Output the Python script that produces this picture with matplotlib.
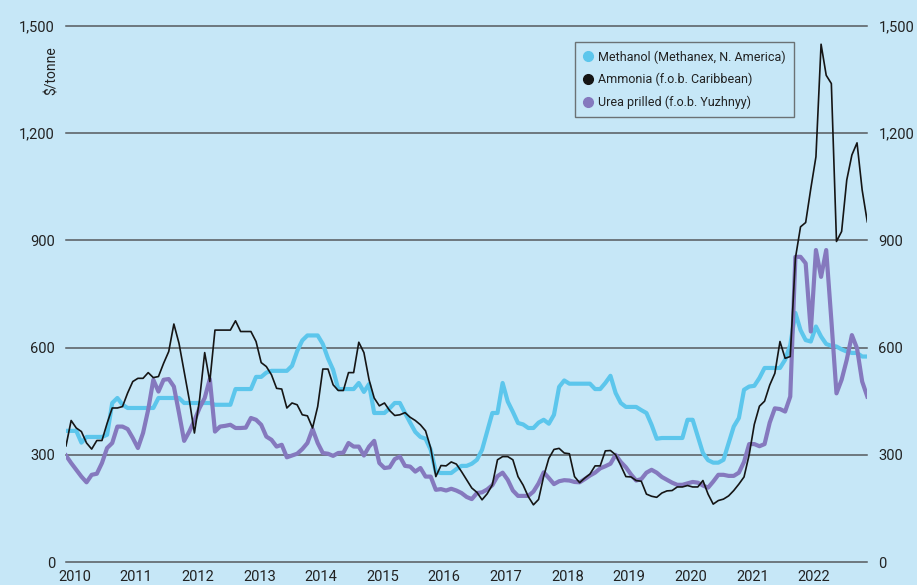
import matplotlib
matplotlib.use("Agg")
import matplotlib.pyplot as plt
from matplotlib.lines import Line2D
import numpy as np

# Monthly data, Jan 2010 .. Jan 2023 ($/tonne)
years = [str(y) for y in range(2010, 2023)]
yticks = [0, 300, 600, 900, 1200, 1500]
ytick_labels = ["0", "300", "600", "900", "1,200", "1,500"]

methanol = [
    367, 367, 367, 334, 350, 350, 350, 350, 356, 445, 459, 440,   # 2010
    431, 431, 431, 431, 431, 431, 459, 459, 459, 459, 459, 445,   # 2011
    445, 445, 445, 445, 445, 440, 440, 440, 440, 484, 484, 484,   # 2012
    484, 518, 518, 530, 535, 535, 535, 535, 549, 590, 620, 634,   # 2013
    634, 634, 610, 570, 538, 484, 484, 484, 484, 501, 476, 498,   # 2014
    417, 417, 417, 430, 445, 445, 417, 390, 364, 350, 345, 314,   # 2015
    252, 249, 249, 249, 260, 269, 269, 275, 286, 314, 365, 417,   # 2016
    417, 501, 449, 420, 389, 385, 375, 375, 390, 398, 387, 412,   # 2017
    490, 508, 499, 499, 499, 499, 499, 484, 484, 501, 521, 473,   # 2018
    445, 434, 434, 434, 425, 417, 384, 345, 347, 347, 347, 347,   # 2019
    347, 398, 398, 351, 305, 285, 278, 278, 286, 333, 379, 403,   # 2020
    482, 491, 493, 515, 543, 543, 543, 543, 566, 607, 697, 649,   # 2021
    621, 617, 659, 631, 610, 605, 603, 595, 589, 585, 585, 575,   # 2022
    575,                                                           # 2023
]

ammonia = [
    325, 396, 375, 365, 333, 316, 340, 340, 388, 431, 431, 435,   # 2010
    473, 505, 514, 514, 530, 516, 519, 556, 589, 666, 612, 533,   # 2011
    454, 361, 454, 586, 505, 649, 649, 649, 649, 675, 645, 645,   # 2012
    645, 617, 558, 547, 524, 486, 484, 431, 445, 440, 412, 409,   # 2013
    375, 435, 540, 540, 496, 480, 480, 530, 530, 615, 586, 510,   # 2014
    459, 437, 445, 424, 410, 412, 418, 405, 396, 384, 367, 319,   # 2015
    239, 270, 269, 280, 274, 253, 230, 207, 195, 174, 191, 216,   # 2016
    286, 295, 295, 286, 239, 215, 183, 160, 175, 240, 290, 315,   # 2017
    318, 305, 303, 239, 222, 235, 246, 269, 269, 311, 312, 300,   # 2018
    270, 239, 238, 228, 226, 190, 184, 181, 193, 199, 200, 210,   # 2019
    210, 214, 210, 210, 228, 190, 162, 172, 176, 185, 200, 218,   # 2020
    238, 300, 385, 436, 450, 495, 528, 617, 570, 575, 850, 938,   # 2021
    950, 1045, 1134, 1449, 1362, 1339, 897, 925, 1069, 1139, 1173, 1041,  # 2022
    952,                                                           # 2023
]

urea = [
    298, 277, 258, 239, 223, 244, 247, 277, 319, 333, 379, 379,   # 2010
    372, 347, 319, 361, 426, 510, 477, 510, 512, 491, 417, 339,   # 2011
    365, 396, 431, 459, 512, 365, 379, 381, 384, 375, 375, 376,   # 2012
    403, 398, 384, 351, 342, 323, 328, 293, 298, 303, 316, 333,   # 2013
    372, 333, 305, 303, 297, 305, 306, 333, 323, 323, 298, 323,   # 2014
    339, 277, 263, 265, 288, 295, 269, 267, 253, 263, 239, 239,   # 2015
    202, 204, 200, 205, 200, 193, 182, 176, 193, 195, 203, 215,   # 2016
    240, 250, 230, 200, 185, 185, 185, 197, 220, 251, 235, 218,   # 2017
    226, 229, 228, 224, 223, 232, 242, 250, 262, 268, 275, 300,   # 2018
    280, 265, 245, 228, 232, 250, 258, 250, 238, 230, 222, 216,   # 2019
    216, 220, 224, 222, 214, 208, 225, 244, 244, 241, 241, 250,   # 2020
    280, 330, 330, 324, 330, 390, 430, 428, 421, 463, 854, 854,   # 2021
    836, 645, 873, 798, 873, 677, 472, 510, 566, 635, 598, 505,   # 2022
    463,                                                           # 2023
]

BG = "#c6e7f7"
C_METH = "#5cc6ec"
C_AMM = "#151515"
C_UREA = "#8579be"
GRID = "#555a5e"

FONT = ["Liberation Sans Narrow", "Roboto", "DejaVu Sans"]
plt.rcParams["font.family"] = FONT

fig = plt.figure(figsize=(9.17, 5.85), dpi=100, facecolor=BG)
W, H = 917, 585
x0, x1 = 66, 867.3
y0, y1 = 562, 26
ax = fig.add_axes([x0 / W, (H - y0) / H, (x1 - x0) / W, (y0 - y1) / H])
ax.set_facecolor(BG)

months = np.arange(len(methanol))
ax.set_xlim(0, len(methanol) - 1)
ax.set_ylim(0, 1500)

for v in yticks:
    ax.axhline(v, color=GRID, lw=1.1, zorder=1, clip_on=False)

ax.plot(months, methanol, color=C_METH, lw=3.0, zorder=3, solid_joinstyle="round")
ax.plot(months, urea, color=C_UREA, lw=3.0, zorder=4, solid_joinstyle="round")
ax.plot(months, ammonia, color=C_AMM, lw=1.2, zorder=5)

for s in ax.spines.values():
    s.set_visible(False)

ax.set_yticks(yticks)
ax.set_yticklabels(ytick_labels)
ax.tick_params(axis="y", length=0, pad=8, labelsize=10.5, colors="#222222",
               labelleft=True, labelright=True)
ax.set_xticks([12 * i + 1.65 for i in range(len(years))])
ax.set_xticklabels(years)
ax.tick_params(axis="x", length=0, pad=6, labelsize=10.5, colors="#222222")

fig.text(52 / W, 1 - 71 / H, "$/tonne", rotation=90, ha="center", va="center",
         fontsize=10, color="#222222")

handles = [
    Line2D([], [], marker="o", ls="none", color=C_METH, markersize=7),
    Line2D([], [], marker="o", ls="none", color=C_AMM, markersize=7),
    Line2D([], [], marker="o", ls="none", color=C_UREA, markersize=7),
]
labels = ["Methanol (Methanex, N. America)", "Ammonia (f.o.b. Caribbean)",
          "Urea prilled (f.o.b. Yuzhnyy)"]
leg = ax.legend(handles, labels, loc="upper left",
                bbox_to_anchor=((575 - x0) / (x1 - x0), (y0 - 42) / (y0 - y1)),
                borderaxespad=0, frameon=True, fancybox=False, fontsize=9,
                handlelength=0.8, handletextpad=0.4, labelspacing=0.75,
                borderpad=0.65)
leg.get_frame().set_facecolor(BG)
leg.get_frame().set_edgecolor("#555555")
leg.get_frame().set_linewidth(1.0)
for t in leg.get_texts():
    t.set_color("#222222")

fig.savefig("out.png", dpi=100, facecolor=BG)
